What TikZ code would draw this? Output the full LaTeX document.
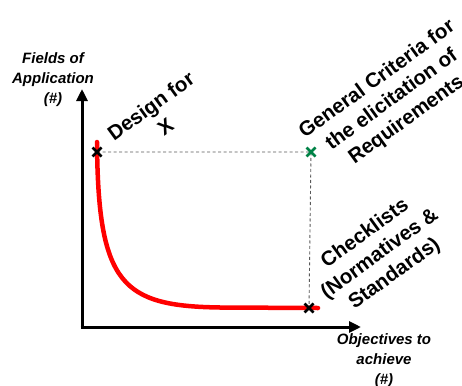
\documentclass[tikz,border=0pt]{standalone}
\usepackage{fontspec}
\setmainfont{Liberation Sans}
\usetikzlibrary{arrows.meta}
\definecolor{mkgreen}{RGB}{0,130,70}
\definecolor{curvered}{RGB}{255,0,0}
\tikzset{
  axis/.style={line width=3pt, -{Triangle[length=12pt,width=11pt]}},
  axlabel/.style={font=\fontsize{15}{20}\selectfont\bfseries\itshape, align=center},
  biglabel/.style={font=\fontsize{20.5}{25}\selectfont\bfseries, align=center, rotate=36},
  guide/.style={gray!70!black, line width=0.9pt, dash pattern=on 3pt off 2.5pt},
  xmark/.style={line width=2.6pt},
}
\begin{document}
\begin{tikzpicture}[x=1pt,y=-1pt]
\useasboundingbox (0,0) rectangle (462,385);
% coordinates
\coordinate (origin) at (82,327);
\coordinate (ytip) at (82,89);
\coordinate (xtip) at (361,327);
\coordinate (pA) at (97,152);
\coordinate (pB) at (311,152);
\coordinate (pC) at (309,308);
% guides
\draw[guide] (pA) -- (pB) -- (pC);
% axes
\draw[axis] ([yshift=1.5pt]origin) -- (ytip);
\draw[axis] ([xshift=-1.5pt]origin) -- (xtip);
% red curve
\draw[curvered, line width=4.5pt, line cap=round]
  (97,142) .. controls (98,285) and (122,306) .. (220,307.5) -- (318,308);
% markers
\draw[xmark] ([shift={(-4.5,-4.5)}]pA) -- ([shift={(4.5,4.5)}]pA)
             ([shift={(-4.5,4.5)}]pA) -- ([shift={(4.5,-4.5)}]pA);
\draw[xmark, mkgreen] ([shift={(-4.5,-4.5)}]pB) -- ([shift={(4.5,4.5)}]pB)
             ([shift={(-4.5,4.5)}]pB) -- ([shift={(4.5,-4.5)}]pB);
\draw[xmark] ([shift={(-4.5,-4.5)}]pC) -- ([shift={(4.5,4.5)}]pC)
             ([shift={(-4.5,4.5)}]pC) -- ([shift={(4.5,-4.5)}]pC);
% labels
\node[axlabel] (ylab) at (53,80) {Fields of\\Application\\(\#)};
\node[axlabel] (xlab) at (384,361) {Objectives to\\achieve\\(\#)};
\node[biglabel] (dfx) at (158,116) {Design for\\X};
\node[biglabel] (gc) at (392,100) {General Criteria for\\the elicitation of\\Requirements};
\node[biglabel] (cl) at (380,254) {Checklists\\(Normatives \&\\Standards)};
\end{tikzpicture}
\end{document}
